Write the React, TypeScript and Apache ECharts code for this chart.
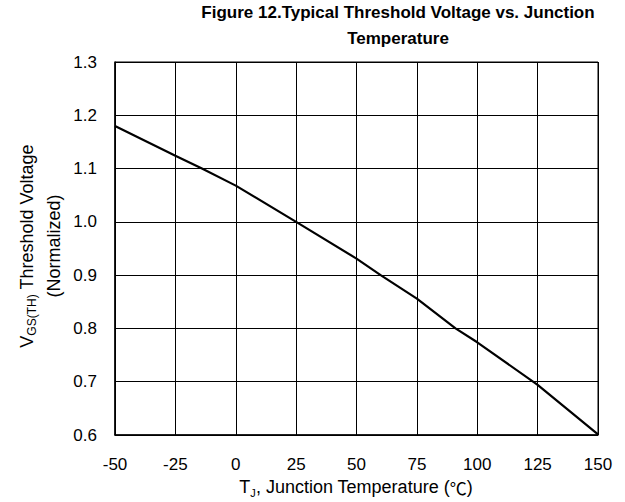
import React, { useEffect, useRef } from "react";
import * as echarts from "echarts";

const temperatures = [-50, -25, -14, 0, 25, 50, 60, 75, 91, 100, 125, 150];
const thresholdNorm = [1.18, 1.124, 1.1, 1.068, 1.0, 0.931, 0.9, 0.856, 0.8, 0.774, 0.694, 0.601];
const xTickRange = { min: -50, max: 150, step: 25 };
const yTickRange = { min: 0.6, max: 1.3, step: 0.1 };

const titleText = "Figure 12.Typical Threshold Voltage vs. Junction\nTemperature";
const FONT = "'Liberation Sans', Arial, sans-serif";

export default function App() {
  const ref = useRef<HTMLDivElement>(null);
  useEffect(() => {
    if (!ref.current) return;
    const chart = echarts.init(ref.current, undefined, { renderer: "svg" });
    const gridL = 115, gridR = 27, gridT = 62, gridB = 67;
    chart.setOption({
      animation: false,
      backgroundColor: "#fff",
      title: {
        text: titleText,
        left: 393,
        top: -6,
        textAlign: "center",
        textStyle: { fontFamily: FONT, fontSize: 17, fontWeight: "bold", color: "#000", lineHeight: 26 },
      },
      grid: {
        left: gridL, right: gridR, top: gridT, bottom: gridB,
        show: true, borderColor: "#000", borderWidth: 1, backgroundColor: "transparent",
      },
      xAxis: {
        type: "value",
        min: xTickRange.min, max: xTickRange.max, interval: xTickRange.step,
        axisLine: { show: true, onZero: false, lineStyle: { color: "#000", width: 1.5 } },
        axisTick: { show: true, inside: true, length: 4, lineStyle: { color: "#000" } },
        splitLine: { show: true, lineStyle: { color: "#000", width: 1 } },
        axisLabel: { color: "#000", fontFamily: FONT, fontSize: 17, margin: 21 },
      },
      yAxis: {
        type: "value",
        min: yTickRange.min, max: yTickRange.max, interval: yTickRange.step,
        axisLine: { show: true, onZero: false, lineStyle: { color: "#000", width: 1.5 } },
        axisTick: { show: true, inside: true, length: 4, lineStyle: { color: "#000" } },
        splitLine: { show: true, lineStyle: { color: "#000", width: 1 } },
        axisLabel: {
          color: "#000", fontFamily: FONT, fontSize: 17, margin: 18,
          formatter: (v: number) => v.toFixed(1),
        },
      },
      graphic: [
        {
          type: "text",
          x: 36,
          y: 246,
          rotation: Math.PI / 2,
          style: {
            text: "{a|V}{s|GS(TH)}{a| Threshold Voltage}\n{a|(Normalized)}",
            align: "center",
            verticalAlign: "middle",
            fill: "#000",
            font: `18px ${FONT}`,
            rich: {
              a: { fontFamily: FONT, fontSize: 18, lineHeight: 27, fill: "#000", verticalAlign: "bottom" },
              s: { fontFamily: FONT, fontSize: 12, lineHeight: 27, fill: "#000", verticalAlign: "bottom", padding: [0, 0, -2, 0] },
            },
          },
        },
        {
          type: "text",
          x: 356,
          y: 485,
          style: {
            text: "{a|T}{s|J}{a|, Junction Temperature (}{c|℃}{a|)}",
            align: "center",
            verticalAlign: "middle",
            fill: "#000",
            font: `18px ${FONT}`,
            rich: {
              a: { fontFamily: FONT, fontSize: 18, lineHeight: 22, fill: "#000", verticalAlign: "bottom" },
              c: { fontFamily: "'Noto Sans CJK SC', sans-serif", fontSize: 17, lineHeight: 22, fill: "#000", verticalAlign: "bottom" },
              s: { fontFamily: FONT, fontSize: 11, lineHeight: 22, fill: "#000", verticalAlign: "bottom", padding: [0, 0, -2, 0] },
            },
          },
        },
      ],
      series: [
        {
          type: "line",
          data: temperatures.map((t, i) => [t, thresholdNorm[i]]),
          showSymbol: false,
          smooth: false,
          lineStyle: { color: "#000", width: 2.2 },
          clip: true,
        },
      ],
    });
    return () => chart.dispose();
  }, []);
  return <div ref={ref} style={{ position: "fixed", left: 0, top: 0, width: 625, height: 502 }} />;
}
